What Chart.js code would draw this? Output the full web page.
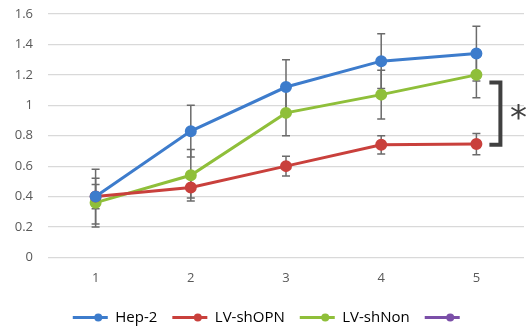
<!DOCTYPE html>
<html>
<head>
<meta charset="utf-8">
<script src="https://cdn.jsdelivr.net/npm/chart.js@4/dist/chart.umd.min.js"></script>
<style>
  html, body { margin: 0; padding: 0; background: #fff; }
  #wrap { width: 528px; height: 326px; position: relative; }
</style>
</head>
<body>
<div id="wrap"><canvas id="c" width="528" height="326"></canvas></div>
<script>
const categories = ['1', '2', '3', '4', '5'];
const seriesNames = ['Hep-2', 'LV-shOPN', 'LV-shNon', ''];
const hep2 = [0.40, 0.83, 1.12, 1.29, 1.34];
const hep2Err = [0.18, 0.17, 0.18, 0.18, 0.18];
const shOPN = [0.40, 0.46, 0.60, 0.74, 0.745];
const shOPNErr = [0.08, 0.07, 0.065, 0.06, 0.07];
const shNon = [0.36, 0.54, 0.95, 1.07, 1.20];
const shNonErr = [0.16, 0.17, 0.15, 0.16, 0.15];
const empty = [];
const yTicks = [0, 0.2, 0.4, 0.6, 0.8, 1, 1.2, 1.4, 1.6];
const bracketRange = [1.15, 0.74];
const sigLabel = '*';

const colors = ['#3d7ccc', '#c9403c', '#8fbf3a', '#7b4fa8'];
const errs = [hep2Err, shOPNErr, shNonErr, null];
const legendShift = 8;

const errorBars = {
  id: 'errorBars',
  afterLayout(chart) {
    const lg = chart.legend;
    if (lg) lg.left += legendShift * 2;
  },
  beforeDatasetsDraw(chart) {
    const ctx = chart.ctx;
    const ys = chart.scales.y;
    ctx.save();
    ctx.strokeStyle = '#6b6b6b';
    ctx.lineWidth = 1.5;
    chart.data.datasets.forEach((ds, i) => {
      const e = errs[i];
      if (!e) return;
      const meta = chart.getDatasetMeta(i);
      meta.data.forEach((pt, j) => {
        const v = ds.data[j];
        const top = ys.getPixelForValue(v + e[j]);
        const bot = ys.getPixelForValue(v - e[j]);
        const x = pt.x;
        ctx.beginPath();
        ctx.moveTo(x, top); ctx.lineTo(x, bot);
        ctx.moveTo(x - 4, top); ctx.lineTo(x + 4, top);
        ctx.moveTo(x - 4, bot); ctx.lineTo(x + 4, bot);
        ctx.stroke();
      });
    });
    ctx.restore();
  },
  afterDraw(chart) {
    const ctx = chart.ctx;
    const ys = chart.scales.y;
    const xs = chart.scales.x;
    const last = xs.getPixelForValue(categories.length - 1);
    const xr = last + 24;
    const y1 = ys.getPixelForValue(bracketRange[0]);
    const y2 = ys.getPixelForValue(bracketRange[1]);
    ctx.save();
    ctx.strokeStyle = '#404040';
    ctx.lineWidth = 4;
    ctx.lineCap = 'butt';
    ctx.lineJoin = 'miter';
    ctx.beginPath();
    ctx.moveTo(xr - 11, y1);
    ctx.lineTo(xr, y1);
    ctx.lineTo(xr, y2);
    ctx.lineTo(xr - 11, y2);
    ctx.stroke();
    ctx.fillStyle = '#404040';
    ctx.font = '34px "DejaVu Sans"';
    ctx.textAlign = 'center';
    ctx.textBaseline = 'middle';
    ctx.fillText(sigLabel, xr + 18, (y1 + y2) / 2 + 7);
    // legend markers
    const lg = chart.legend;
    if (lg && lg.legendHitBoxes) {
      lg.legendHitBoxes.forEach((b, i) => {
        ctx.beginPath();
        ctx.fillStyle = colors[i];
        ctx.arc(b.left + legendShift + 17.5, b.top + b.height / 2, 4, 0, Math.PI * 2);
        ctx.fill();
      });
    }
    ctx.restore();
  }
};

function mk(label, data, color) {
  return {
    label, data,
    borderColor: color, backgroundColor: color,
    borderWidth: 3, pointRadius: 4.5, pointHoverRadius: 4.5,
    pointBackgroundColor: color, pointBorderColor: color,
    tension: 0, fill: false
  };
}

new Chart(document.getElementById('c'), {
  type: 'line',
  data: {
    labels: categories,
    datasets: [
      mk(seriesNames[0], hep2, colors[0]),
      mk(seriesNames[1], shOPN, colors[1]),
      mk(seriesNames[2], shNon, colors[2]),
      mk(seriesNames[3], empty, colors[3])
    ]
  },
  options: {
    responsive: false,
    animation: false,
    devicePixelRatio: 1,
    layout: { autoPadding: false, padding: { top: 0, right: 4, left: 0, bottom: -9 } },
    plugins: {
      tooltip: { enabled: false },
      legend: {
        position: 'bottom',
        labels: {
          boxWidth: 35, boxHeight: 3,
          color: '#595959',
          font: { family: '"Open Sans"', size: 15 },
          padding: 15,
          generateLabels(chart) {
            return chart.data.datasets.map((ds, i) => ({
              text: ds.label, fillStyle: colors[i], strokeStyle: colors[i],
              lineWidth: 0, hidden: false, datasetIndex: i
            }));
          }
        }
      }
    },
    scales: {
      x: {
        offset: true,
        grid: { display: false },
        border: { display: false },
        afterFit(scale) { scale.height += 4; scale.paddingRight = 0; scale.paddingLeft = 0; },
        ticks: { color: '#595959', font: { family: '"Open Sans"', size: 13 }, padding: 5 }
      },
      y: {
        min: 0, max: 1.6,
        afterBuildTicks(scale) { scale.ticks = yTicks.map(v => ({ value: v })); },
        afterFit(scale) { scale.width = 48; scale.paddingTop = 14; },
        grid: { color: '#d9d9d9', lineWidth: 1.2, drawTicks: false },
        border: { display: false },
        ticks: {
          color: '#595959', font: { family: '"Open Sans"', size: 13 }, padding: 15,
          callback: v => String(+(+v).toFixed(1))
        }
      }
    }
  },
  plugins: [errorBars]
});
</script>
</body>
</html>
